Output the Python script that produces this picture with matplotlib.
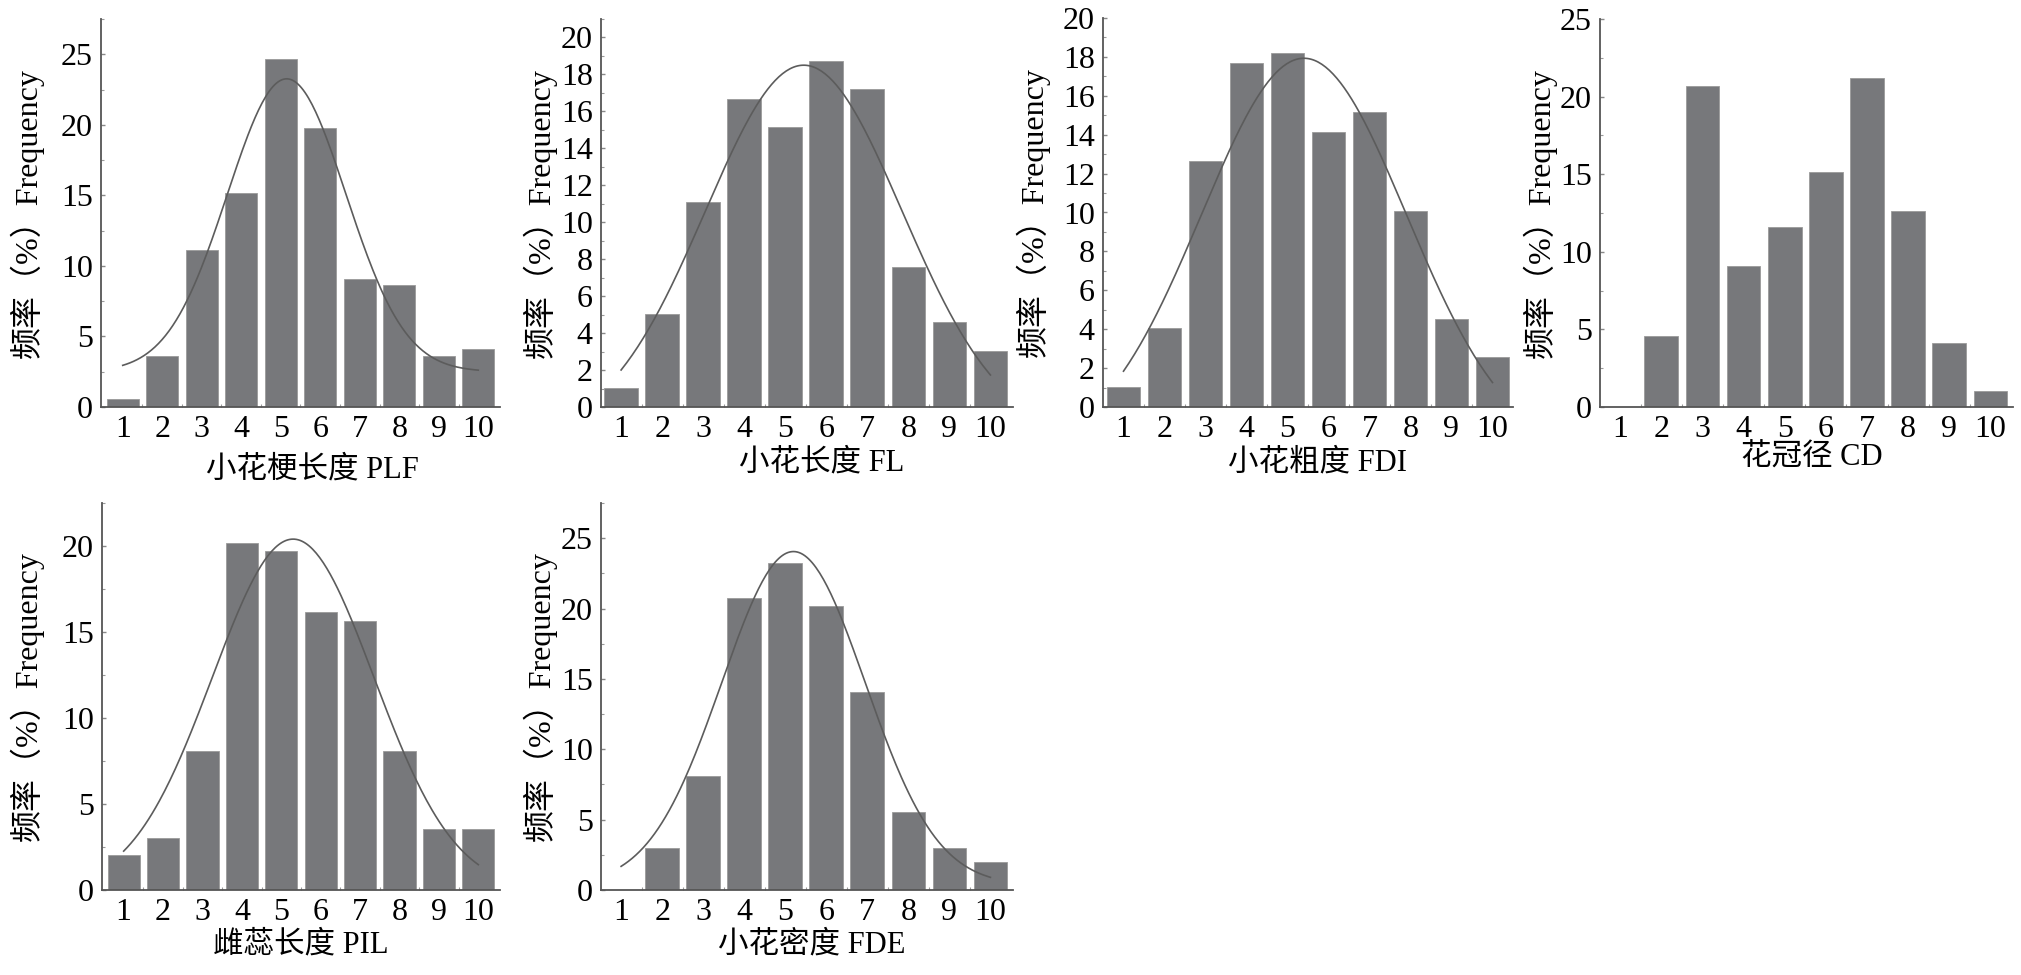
import numpy as np
import matplotlib
matplotlib.use("Agg")
import matplotlib.pyplot as plt
from matplotlib.ticker import MultipleLocator, FixedLocator

plt.rcParams['font.family'] = ['Liberation Serif', 'Noto Sans CJK SC', 'DejaVu Sans']

# 分级 1-10
classes = list(range(1, 11))

# 频率 (%)
plf = [0.55, 3.6, 11.15, 15.2, 24.7, 19.75, 9.1, 8.65, 3.6, 4.1]
fl = [1.05, 5.05, 11.1, 16.65, 15.15, 18.7, 17.2, 7.6, 4.6, 3.05]
fdi = [1.05, 4.05, 12.65, 17.7, 18.2, 14.15, 15.15, 10.1, 4.55, 2.55]
cd = [0, 4.55, 20.7, 9.1, 11.6, 15.15, 21.2, 12.6, 4.1, 1.05]
pil = [2.05, 3.05, 8.1, 20.2, 19.7, 16.15, 15.65, 8.1, 3.55, 3.55]
fde = [0, 3.0, 8.1, 20.75, 23.25, 20.2, 14.1, 5.55, 3.0, 2.0]

titles = ['小花梗长度 PLF', '小花长度 FL', '小花粗度 FDI', '花冠径 CD', '雌蕊长度 PIL', '小花密度 FDE']
series = [plf, fl, fdi, cd, pil, fde]

# 正态拟合曲线参数 (均值, 标准差, 峰高, 基线)
fit_mu = [5.15, 5.45, 5.4, None, 5.3, 5.2]
fit_sd = [1.5, 2.4, 2.5, None, 2.05, 1.75]
fit_amp = [20.76, 20.1, 20.43, None, 20.4, 23.7]
fit_base = [2.5, -1.6, -2.5, None, 0.0, 0.35]

ymax = [27.5, 21, 20, 25, 22.5, 27.5]
ystep = [5, 2, 2, 5, 5, 5]

W, H = 2021, 975
# 坐标轴像素位置 (left, top, right, bottom)
boxes = [(101, 19, 500, 407), (601, 19, 1013, 407), (1103, 18, 1513, 407),
         (1600, 19, 2013, 407), (102, 503, 500, 890), (601, 503, 1013, 890)]
xlims = [(0.45, 10.55), (0.51, 10.55), (0.5, 10.5), (0.51, 10.55), (0.45, 10.55), (0.51, 10.55)]
ylab_off = [74, 61, 70, 60, 75, 61]
xlab_off = [63, 56, 56, 51, 55, 55]
xlab_dx = [12, 15, 10, 5, 0, 5]

bar_color = '#77787b'
line_color = '#5c5c5c'
spine_color = '#555555'

fig = plt.figure(figsize=(W / 100, H / 100), dpi=100)

for i in range(6):
    l, t, r, b = boxes[i]
    ax = fig.add_axes([l / W, 1 - b / H, (r - l) / W, (b - t) / H])
    ax.bar(classes, series[i], width=0.82, color=bar_color, edgecolor='#9a9a9a', linewidth=0.6)

    if fit_mu[i] is not None:
        xs = np.linspace(1, 10, 200)
        ys = fit_base[i] + fit_amp[i] * np.exp(-(xs - fit_mu[i]) ** 2 / (2 * fit_sd[i] ** 2))
        ax.plot(xs, ys, color=line_color, linewidth=1.2)

    ax.set_xlim(*xlims[i])
    ax.set_ylim(0, ymax[i])
    ax.set_xticks(classes)
    ax.xaxis.set_minor_locator(FixedLocator([c + 0.5 for c in classes[:-1]]))
    ax.yaxis.set_major_locator(MultipleLocator(ystep[i]))
    ax.yaxis.set_minor_locator(MultipleLocator(ystep[i] / 2))

    for s in ['top', 'right']:
        ax.spines[s].set_visible(False)
    for s in ['left', 'bottom']:
        ax.spines[s].set_color(spine_color)
        ax.spines[s].set_linewidth(1.3)

    ax.tick_params(axis='x', which='major', length=0, pad=6, labelsize=23)
    ax.tick_params(axis='y', which='major', direction='in', length=3, width=1,
                   color='#888888', pad=6, labelsize=23)
    ax.tick_params(which='minor', direction='in', length=2, width=0.8, color='#999999')

    w_px = r - l
    h_px = b - t
    ax.set_ylabel('频率（%）Frequency', fontsize=23)
    ax.yaxis.set_label_coords(-ylab_off[i] / w_px, 0.5)
    ax.yaxis.label.set_va('center')
    ax.set_xlabel(titles[i], fontsize=22)
    ax.xaxis.set_label_coords(0.5 + xlab_dx[i] / w_px, -xlab_off[i] / h_px)
    ax.xaxis.label.set_va('center')

fig.savefig('out.png', dpi=100)
